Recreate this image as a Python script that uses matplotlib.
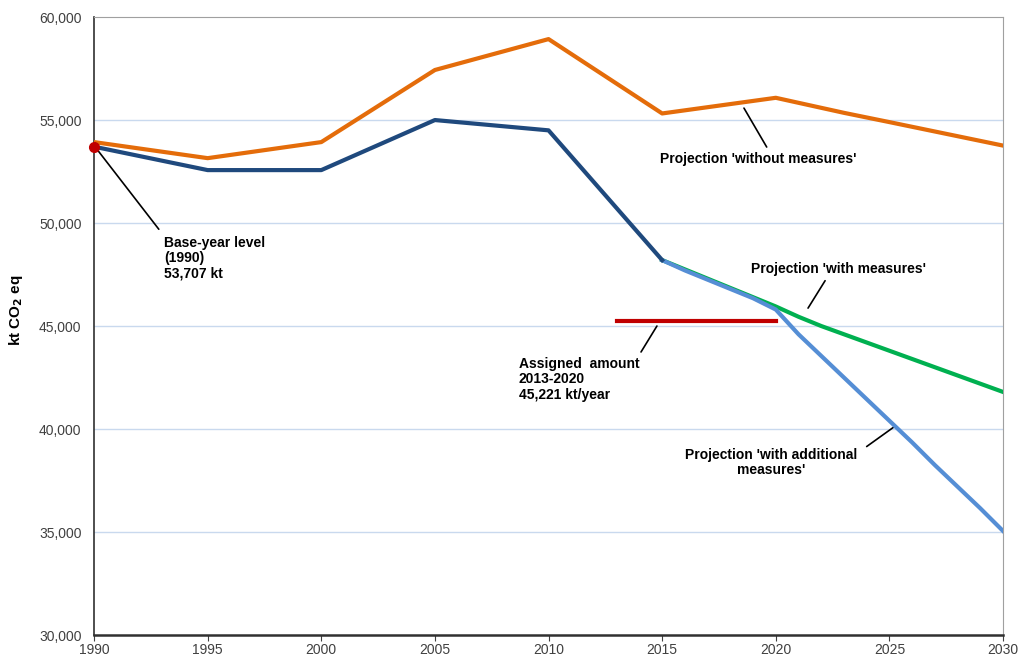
import matplotlib
matplotlib.use("Agg")
import matplotlib.pyplot as plt
import numpy as np

plt.rcParams['font.family'] = ['Liberation Sans', 'DejaVu Sans']

# historical inventory (kt CO2 eq)
hist_years = [1990, 1995, 2000, 2005, 2010, 2015]
hist_vals = [53707, 52570, 52570, 55000, 54500, 48200]

# projection 'without measures'
wom_years = [1990, 1995, 2000, 2005, 2010, 2015, 2020, 2023, 2025, 2030]
wom_vals = [53930, 53150, 53930, 57430, 58930, 55320, 56080, 55350, 54900, 53760]

# projection 'with measures'
wm_years = list(range(2015, 2031))
wm_vals = [48200, 47750, 47300, 46850, 46400, 45950, 45450, 45000, 44600,
           44200, 43800, 43400, 43000, 42600, 42200, 41800]

# projection 'with additional measures'
wam_years = list(range(2015, 2031))
wam_vals = [48200, 47700, 47250, 46800, 46350, 45800, 44600, 43550, 42500,
            41450, 40400, 39350, 38250, 37200, 36150, 35050]

# assigned amount 2013-2020
aa_years = [2013, 2020]
aa_val = 45221
base_year, base_val = 1990, 53707

fig = plt.figure(figsize=(10.21, 6.56), dpi=100)
ax = fig.add_axes([0.0921, 0.032, 0.8903, 0.942])

ax.set_xlim(1990, 2030)
ax.set_ylim(30000, 60000)
ax.set_xticks(range(1990, 2031, 5))
ax.set_yticks(range(30000, 60001, 5000))
ax.set_yticklabels([f"{v:,}" for v in range(30000, 60001, 5000)])
ax.tick_params(axis='y', length=0, labelsize=10, labelcolor='#404040', pad=9)
ax.tick_params(axis='x', length=4, direction='out', labelsize=10,
               labelcolor='#404040', color='#404040', pad=1.5)
for v in range(35000, 60000, 5000):
    ax.axhline(v, color='#c9d9ee', lw=1, zorder=0)

for s in ['top', 'right']:
    ax.spines[s].set_color('#a0a0a0')
for s in ['left', 'bottom']:
    ax.spines[s].set_color('#303030')
    ax.spines[s].set_linewidth(1.2)
ax.spines['bottom'].set_linewidth(1.8)

lw = 3
ax.plot(wom_years, wom_vals, color='#e46c0a', lw=lw, zorder=3)
ax.plot(wm_years, wm_vals, color='#00b050', lw=lw, zorder=3)
ax.plot(wam_years, wam_vals, color='#558ed5', lw=lw, zorder=4)
ax.plot(hist_years, hist_vals, color='#1f497d', lw=lw, zorder=5)
ax.plot(aa_years, [aa_val, aa_val], color='#c00000', lw=lw, zorder=5)
ax.plot([base_year], [base_val], 'o', color='#c00000', ms=7, zorder=6,
        clip_on=False)

ax.set_ylabel("kt CO$_\\mathbf{2}$ eq", fontsize=11, fontweight='bold')
ax.yaxis.set_label_coords(-0.076, 0.526)

tkw = dict(fontsize=10, fontweight='bold', color='black')
akw = dict(arrowstyle='-', color='black', lw=1.2, shrinkA=0, shrinkB=0)

ax.annotate("", xy=(1990.15, 53550), xytext=(1992.85, 49700), arrowprops=akw)
ax.text(1993.1, 49380, "Base-year level\n(1990)\n53,707 kt", va='top',
        ha='left', linespacing=1.1, **tkw)

ax.annotate("", xy=(2018.6, 55580), xytext=(2019.6, 53690), arrowprops=akw)
ax.text(2019.25, 53100, "Projection 'without measures'", ha='center',
        va='center', **tkw)

ax.annotate("", xy=(2021.42, 45870), xytext=(2022.17, 47200), arrowprops=akw)
ax.text(2022.75, 47770, "Projection 'with measures'", ha='center',
        va='center', **tkw)

ax.annotate("", xy=(2014.77, 45000), xytext=(2014.07, 43740), arrowprops=akw)
ax.text(2008.7, 43480, "Assigned  amount\n2013-2020\n45,221 kt/year",
        va='top', ha='left', linespacing=1.1, **tkw)

ax.annotate("", xy=(2025.2, 40100), xytext=(2024.0, 39150), arrowprops=akw)
ax.text(2019.8, 39100, "Projection 'with additional\nmeasures'",
        ha='center', va='top', linespacing=1.1, **tkw)

fig.savefig("out.png", dpi=100)
